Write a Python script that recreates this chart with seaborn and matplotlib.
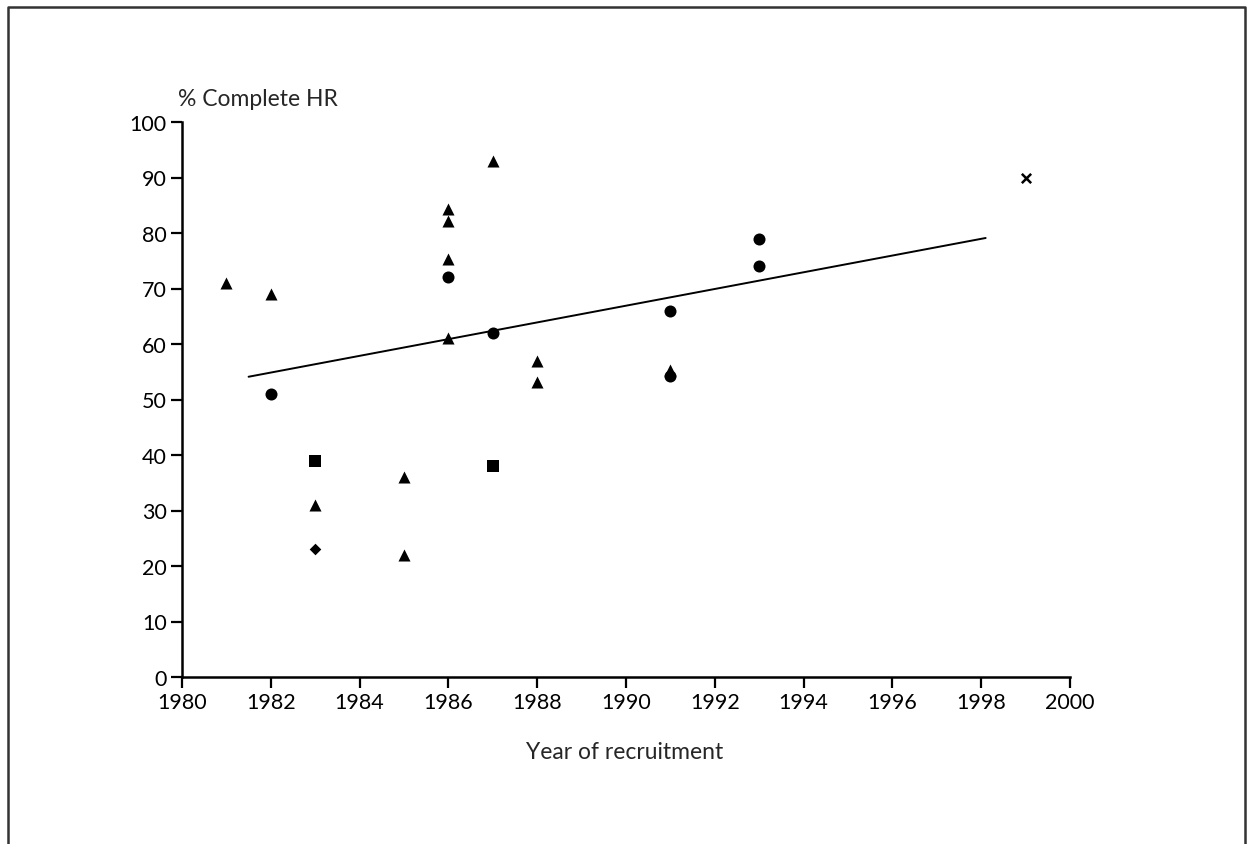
import matplotlib
matplotlib.use("Agg")
import matplotlib.pyplot as plt
from matplotlib.lines import Line2D
import pandas as pd
import seaborn as sns

# Study-level data: year of recruitment, % complete HR, design group
years = [1981, 1982, 1982, 1983, 1983, 1983, 1985, 1985,
         1986, 1986, 1986, 1986, 1986, 1987, 1987, 1987,
         1988, 1988, 1991, 1991, 1991, 1993, 1993, 1999]
complete_hr = [71, 69, 51, 39, 31, 23, 36, 22,
               84.3, 82.2, 75.3, 61, 72, 93, 62, 38,
               57, 53.2, 66, 55.3, 54.2, 79, 74, 90]
groups = ["tri", "tri", "circ", "sq", "tri", "dia", "tri", "tri",
          "tri", "tri", "tri", "tri", "circ", "tri", "circ", "sq",
          "tri", "tri", "circ", "tri", "circ", "circ", "circ", "x"]

# Fitted trend line end points
trend_years = [1981.5, 1998.1]
trend_values = [54.1, 79.1]

x_ticks = list(range(1980, 2001, 2))
y_ticks = list(range(0, 101, 10))

df = pd.DataFrame({"year": years, "hr": complete_hr, "group": groups})
trend = pd.DataFrame({"year": trend_years, "hr": trend_values})

sns.set_theme(style="white")
plt.rcParams["font.family"] = ["Lato", "DejaVu Sans"]

fig = plt.figure(figsize=(12.53, 8.45), dpi=100)
ax = fig.add_axes([182 / 1253, 1 - 678 / 845, (1070 - 182) / 1253, (678 - 123) / 845])

markers = {"tri": "^", "circ": "o", "sq": "s", "dia": "D", "x": "x"}
sizes = {"tri": 75, "circ": 75, "sq": 75, "dia": 35, "x": 45}
for g, sub in df.groupby("group"):
    sns.scatterplot(data=sub, x="year", y="hr", marker=markers[g], s=sizes[g],
                    color="black", edgecolor="black",
                    linewidth=1.8 if g == "x" else 0, ax=ax, legend=False)

sns.lineplot(data=trend, x="year", y="hr", color="black", linewidth=1.4, ax=ax)

ax.set_xlim(1980, 2000)
ax.set_ylim(0, 100)
ax.set_xticks(x_ticks)
ax.set_yticks(y_ticks)
ax.tick_params(axis="both", direction="out", length=8, width=1.6, color="black",
               labelsize=15.5, labelcolor="black", pad=3, bottom=True, left=True)
for side in ("top", "right"):
    ax.spines[side].set_visible(False)
for side in ("left", "bottom"):
    ax.spines[side].set_color("black")
    ax.spines[side].set_linewidth(1.8)
ax.set_xlabel("")
ax.set_ylabel("")

fig.text(178 / 1253, 1 - 100 / 845, "% Complete HR", fontsize=16.5, ha="left", va="center")
fig.text(625 / 1253, 1 - 753 / 845, "Year of recruitment", fontsize=16.5, ha="center", va="center")

# Outer frame (open at the bottom)
fx = [8 / 1253, 8 / 1253, 1245 / 1253, 1245 / 1253]
fy = [0, 1 - 8 / 845, 1 - 8 / 845, 0]
fig.add_artist(Line2D(fx, fy, transform=fig.transFigure, color="#333333", linewidth=1.8))

fig.savefig("out.png", dpi=100, facecolor="white")
